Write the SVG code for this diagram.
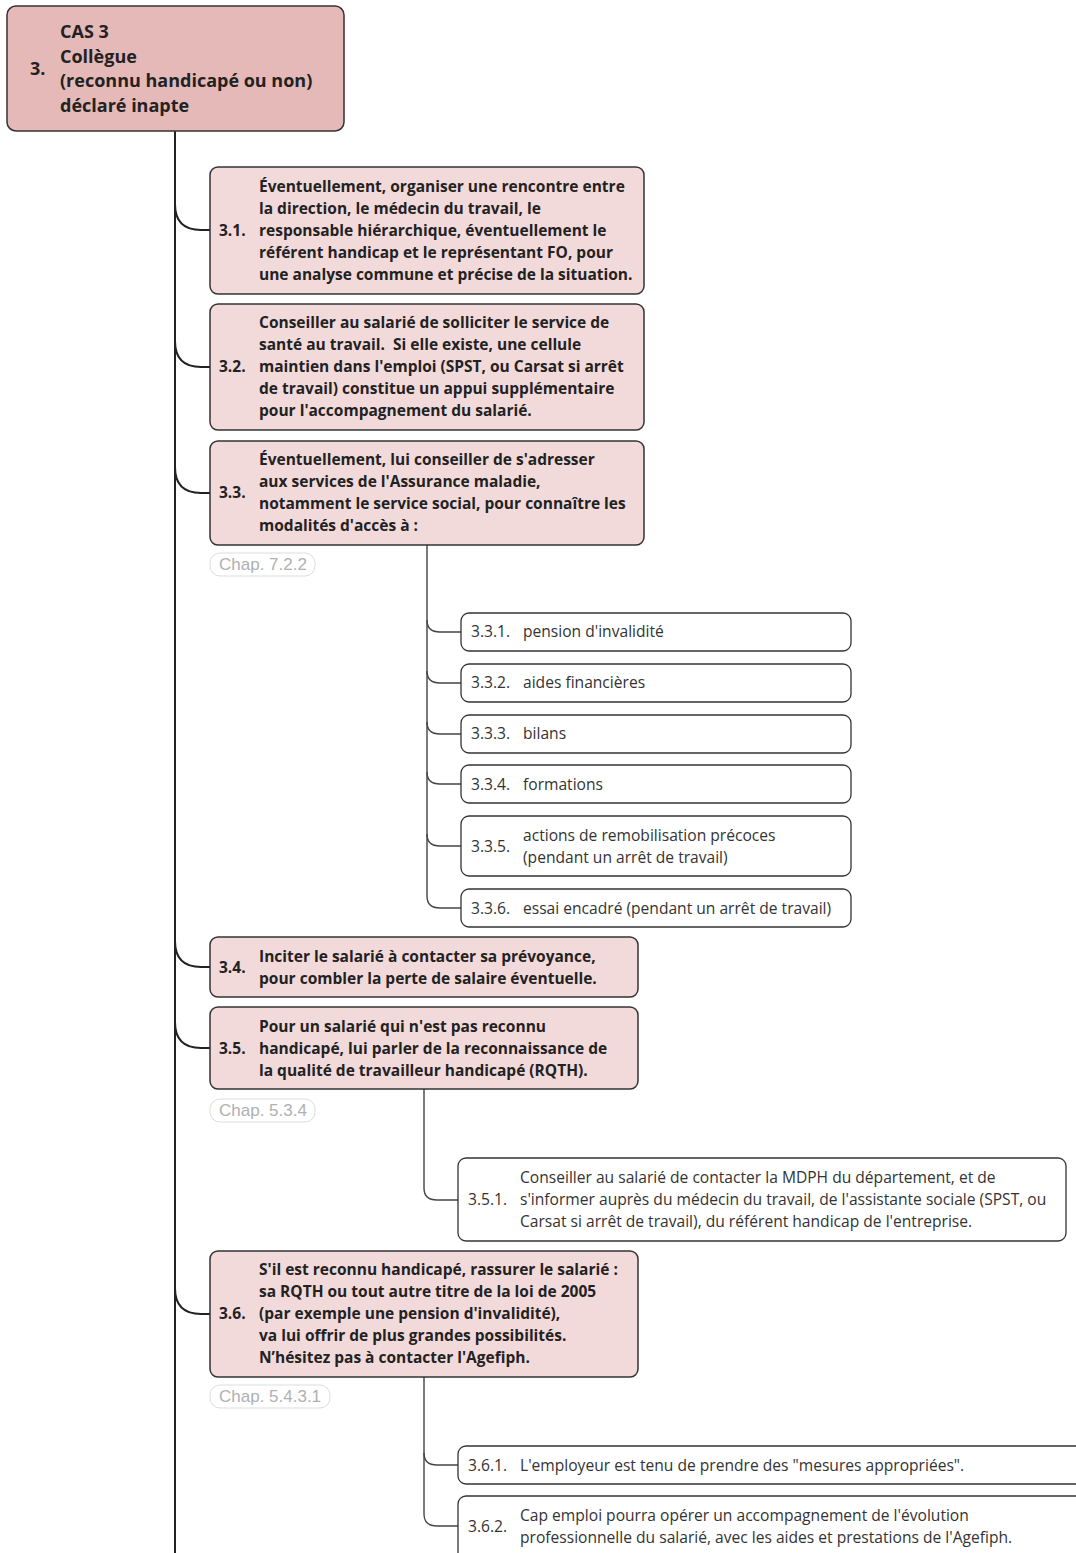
<svg xmlns="http://www.w3.org/2000/svg" width="1076" height="1553" viewBox="0 0 1076 1553">
<style>
.root{fill:#e6b9b9;stroke:#333;stroke-width:1.5}
.pink{fill:#f3dada;stroke:#333;stroke-width:1.5}
.white{fill:#fff;stroke:#333;stroke-width:1.3}
.pill{fill:#fff;stroke:#ddd;stroke-width:1}
.tb{font-family:"Open Sans","Noto Sans",sans-serif;font-weight:700;font-size:15.5px;fill:#222}
.tr{font-family:"Open Sans","Noto Sans",sans-serif;font-weight:400;font-size:15.6px;fill:#333}
.th{font-family:"Open Sans","Noto Sans",sans-serif;font-weight:700;font-size:18px;fill:#222}
.chap{font-family:"Liberation Sans",Arial,sans-serif;font-size:17px;fill:#b0b0b0}
.c1{fill:none;stroke:#222;stroke-width:2}
.c2{fill:none;stroke:#444;stroke-width:1.4}
</style>
<rect width="1076" height="1553" fill="#fff"/>
<g id="connectors">
<path class="c1" d="M175,131 V1553"/>
<path class="c1" d="M175,204 Q175,230 201,230 H210"/>
<path class="c1" d="M175,341 Q175,367 201,367 H210"/>
<path class="c1" d="M175,467 Q175,493 201,493 H210"/>
<path class="c1" d="M175,941 Q175,967 201,967 H210"/>
<path class="c1" d="M175,1022 Q175,1048 201,1048 H210"/>
<path class="c1" d="M175,1288 Q175,1314 201,1314 H210"/>
<path class="c2" d="M427,545 V896 Q427,908 440,908 H461"/>
<path class="c2" d="M427,620 Q427,632 440,632 H461"/>
<path class="c2" d="M427,671 Q427,683 440,683 H461"/>
<path class="c2" d="M427,722 Q427,734 440,734 H461"/>
<path class="c2" d="M427,772 Q427,784 440,784 H461"/>
<path class="c2" d="M427,834 Q427,846 440,846 H461"/>
<path class="c2" d="M424,1089 V1188 Q424,1200 437,1200 H458"/>
<path class="c2" d="M424,1377 V1514 Q424,1526 437,1526 H458"/>
<path class="c2" d="M424,1453 Q424,1465 437,1465 H458"/>
</g>
<g id="n3">
<rect class="root" x="7" y="6" width="337" height="125" rx="9"/>
<text class="th" x="30" y="75">3.</text>
<text class="th" x="60" y="38">CAS 3</text>
<text class="th" x="60" y="63">Collègue</text>
<text class="th" x="60" y="87">(reconnu handicapé ou non)</text>
<text class="th" x="60" y="112">déclaré inapte</text>
</g>
<g id="n3_1">
<rect class="pink" x="210" y="167" width="434" height="127" rx="8"/>
<text class="tb" x="219" y="236">3.1.</text>
<text class="tb" x="259" y="192">Éventuellement, organiser une rencontre entre</text>
<text class="tb" x="259" y="214">la direction, le médecin du travail, le</text>
<text class="tb" x="259" y="236">responsable hiérarchique, éventuellement le</text>
<text class="tb" x="259" y="258">référent handicap et le représentant FO, pour</text>
<text class="tb" x="259" y="280">une analyse commune et précise de la situation.</text>
</g>
<g id="n3_2">
<rect class="pink" x="210" y="304" width="434" height="126" rx="8"/>
<text class="tb" x="219" y="372">3.2.</text>
<text class="tb" x="259" y="328">Conseiller au salarié de solliciter le service de</text>
<text class="tb" x="259" y="350" xml:space="preserve">santé au travail.  Si elle existe, une cellule</text>
<text class="tb" x="259" y="372">maintien dans l'emploi (SPST, ou Carsat si arrêt</text>
<text class="tb" x="259" y="394">de travail) constitue un appui supplémentaire</text>
<text class="tb" x="259" y="416">pour l'accompagnement du salarié.</text>
</g>
<g id="n3_3">
<rect class="pink" x="210" y="441" width="434" height="104" rx="8"/>
<text class="tb" x="219" y="498">3.3.</text>
<text class="tb" x="259" y="465">Éventuellement, lui conseiller de s'adresser</text>
<text class="tb" x="259" y="487">aux services de l'Assurance maladie,</text>
<text class="tb" x="259" y="509">notamment le service social, pour connaître les</text>
<text class="tb" x="259" y="531">modalités d'accès à :</text>
</g>
<g id="chap_722">
<rect class="pill" x="210" y="553" width="105" height="23" rx="10"/>
<text class="chap" x="219" y="570">Chap. 7.2.2</text>
</g>
<g id="n3_3_1">
<rect class="white" x="461" y="613" width="390" height="38" rx="8"/>
<text class="tr" x="471" y="637">3.3.1.</text>
<text class="tr" x="523" y="637">pension d'invalidité</text>
</g>
<g id="n3_3_2">
<rect class="white" x="461" y="664" width="390" height="38" rx="8"/>
<text class="tr" x="471" y="688">3.3.2.</text>
<text class="tr" x="523" y="688">aides financières</text>
</g>
<g id="n3_3_3">
<rect class="white" x="461" y="715" width="390" height="38" rx="8"/>
<text class="tr" x="471" y="739">3.3.3.</text>
<text class="tr" x="523" y="739">bilans</text>
</g>
<g id="n3_3_4">
<rect class="white" x="461" y="765" width="390" height="38" rx="8"/>
<text class="tr" x="471" y="790">3.3.4.</text>
<text class="tr" x="523" y="790">formations</text>
</g>
<g id="n3_3_5">
<rect class="white" x="461" y="816" width="390" height="60" rx="8"/>
<text class="tr" x="471" y="852">3.3.5.</text>
<text class="tr" x="523" y="841">actions de remobilisation précoces</text>
<text class="tr" x="523" y="863">(pendant un arrêt de travail)</text>
</g>
<g id="n3_3_6">
<rect class="white" x="461" y="889" width="390" height="38" rx="8"/>
<text class="tr" x="471" y="914">3.3.6.</text>
<text class="tr" x="523" y="914">essai encadré (pendant un arrêt de travail)</text>
</g>
<g id="n3_4">
<rect class="pink" x="210" y="937" width="428" height="60" rx="8"/>
<text class="tb" x="219" y="973">3.4.</text>
<text class="tb" x="259" y="962">Inciter le salarié à contacter sa prévoyance,</text>
<text class="tb" x="259" y="984">pour combler la perte de salaire éventuelle.</text>
</g>
<g id="n3_5">
<rect class="pink" x="210" y="1007" width="428" height="82" rx="8"/>
<text class="tb" x="219" y="1054">3.5.</text>
<text class="tb" x="259" y="1032">Pour un salarié qui n'est pas reconnu</text>
<text class="tb" x="259" y="1054">handicapé, lui parler de la reconnaissance de</text>
<text class="tb" x="259" y="1076">la qualité de travailleur handicapé (RQTH).</text>
</g>
<g id="chap_534">
<rect class="pill" x="210" y="1099" width="105" height="23" rx="10"/>
<text class="chap" x="219" y="1116">Chap. 5.3.4</text>
</g>
<g id="n3_5_1">
<rect class="white" x="458" y="1158" width="608" height="83" rx="8"/>
<text class="tr" x="468" y="1205">3.5.1.</text>
<text class="tr" x="520" y="1183">Conseiller au salarié de contacter la MDPH du département, et de</text>
<text class="tr" x="520" y="1205">s'informer auprès du médecin du travail, de l'assistante sociale (SPST, ou</text>
<text class="tr" x="520" y="1227">Carsat si arrêt de travail), du référent handicap de l'entreprise.</text>
</g>
<g id="n3_6">
<rect class="pink" x="210" y="1251" width="428" height="126" rx="8"/>
<text class="tb" x="219" y="1319">3.6.</text>
<text class="tb" x="259" y="1275">S'il est reconnu handicapé, rassurer le salarié :</text>
<text class="tb" x="259" y="1297">sa RQTH ou tout autre titre de la loi de 2005</text>
<text class="tb" x="259" y="1319">(par exemple une pension d'invalidité),</text>
<text class="tb" x="259" y="1341">va lui offrir de plus grandes possibilités.</text>
<text class="tb" x="259" y="1363">N’hésitez pas à contacter l'Agefiph.</text>
</g>
<g id="chap_5431">
<rect class="pill" x="210" y="1385" width="120" height="23" rx="10"/>
<text class="chap" x="219" y="1402">Chap. 5.4.3.1</text>
</g>
<g id="n3_6_1">
<rect class="white" x="458" y="1446" width="640" height="38" rx="8"/>
<text class="tr" x="468" y="1471">3.6.1.</text>
<text class="tr" x="520" y="1471">L'employeur est tenu de prendre des "mesures appropriées".</text>
</g>
<g id="n3_6_2">
<rect class="white" x="458" y="1496" width="640" height="70" rx="8"/>
<text class="tr" x="468" y="1532">3.6.2.</text>
<text class="tr" x="520" y="1521">Cap emploi pourra opérer un accompagnement de l'évolution</text>
<text class="tr" x="520" y="1543">professionnelle du salarié, avec les aides et prestations de l'Agefiph.</text>
</g>
</svg>
